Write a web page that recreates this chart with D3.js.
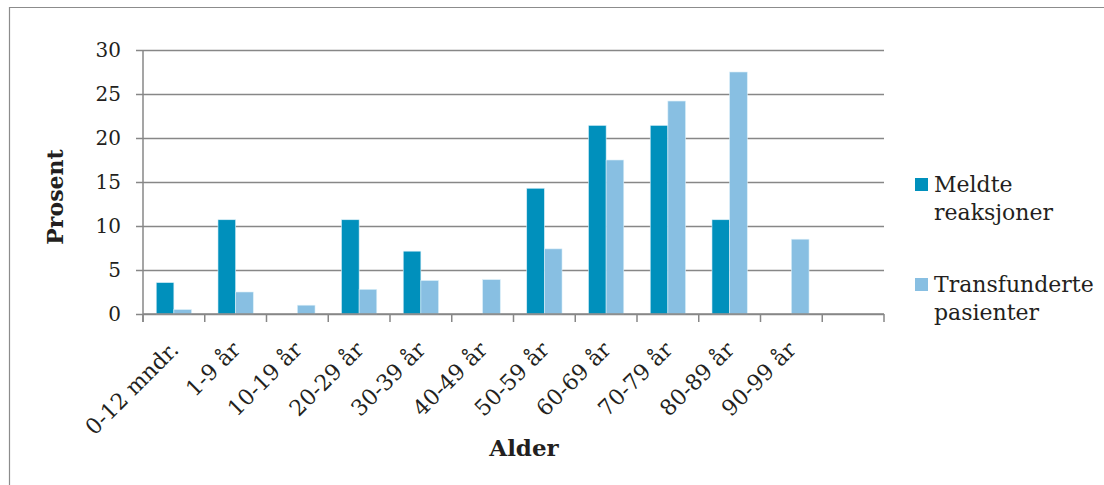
<!DOCTYPE html>
<html>
<head>
<meta charset="utf-8">
<script src="https://cdn.jsdelivr.net/npm/d3@7/dist/d3.min.js"></script>
<style>
  html, body { margin: 0; padding: 0; background: #fff; }
  svg { display: block; }
  text { font-family: "DejaVu Serif", Georgia, serif; fill: #231f20; }
</style>
</head>
<body>
<svg id="chart" width="1104" height="485"></svg>
<script>
// Age groups (last slot is an empty band with no label)
const categories = ["0-12 mndr.", "1-9 år", "10-19 år", "20-29 år", "30-39 år", "40-49 år",
                    "50-59 år", "60-69 år", "70-79 år", "80-89 år", "90-99 år", ""];
const seriesNames = ["Meldte reaksjoner", "Transfunderte pasienter"];
const meldte =        [3.57, 10.71, 0, 10.71, 7.14, 0, 14.29, 21.43, 21.43, 10.71, 0, 0];
const transfunderte = [0.5, 2.5, 1.0, 2.8, 3.8, 3.9, 7.4, 17.5, 24.2, 27.5, 8.5, 0];
const yTicks = [0, 5, 10, 15, 20, 25, 30];

const colors = ["#0090bc", "#88bfe2"];
const gridColor = "#878787";

const svg = d3.select("#chart");

// outer frame
svg.append("path")
  .attr("d", "M9.5,490 L9.5,7.5 L1110,7.5")
  .attr("fill", "none").attr("stroke", "#8c8c8c").attr("stroke-width", 1.2);

const plot = { left: 143, right: 884, top: 50, bottom: 314 };

const x = d3.scaleBand().domain(d3.range(categories.length))
  .range([plot.left, plot.right]).paddingInner(0).paddingOuter(0);
const inner = d3.scaleBand().domain([0, 1])
  .range([0, x.bandwidth()]).paddingInner(0).paddingOuter(0.75);
const y = d3.scaleLinear().domain([0, 30]).range([plot.bottom, plot.top]);

// horizontal gridlines with left tick marks
const yAxis = d3.axisLeft(y).tickValues(yTicks).tickSize(-(plot.right - plot.left)).tickFormat("");
const gy = svg.append("g").attr("transform", `translate(${plot.left},0)`).call(yAxis);
gy.select(".domain").remove();
gy.selectAll(".tick line").attr("stroke", gridColor).attr("stroke-width", 1.5)
  .attr("x1", -7);

// y tick labels
svg.append("g").selectAll("text").data(yTicks).join("text")
  .attr("x", 121).attr("y", d => y(d)).attr("dy", "0.36em")
  .attr("text-anchor", "end").attr("font-size", 20)
  .text(d => d);

// bars
const series = [meldte, transfunderte];
series.forEach((vals, s) => {
  svg.append("g").selectAll("rect").data(vals).join("rect")
    .attr("x", (d, i) => x(i) + inner(s))
    .attr("y", d => y(d))
    .attr("width", inner.bandwidth())
    .attr("height", d => y(0) - y(d))
    .attr("fill", colors[s])
    .attr("stroke", d => d > 0 ? "#d9eef8" : "none")
    .attr("stroke-width", 0.6);
});

// x axis line with tick marks at band edges
const edges = d3.range(categories.length + 1).map(i => plot.left + i * x.step());
svg.append("line")
  .attr("x1", plot.left).attr("x2", plot.right)
  .attr("y1", y(0)).attr("y2", y(0))
  .attr("stroke", gridColor).attr("stroke-width", 1.5);
svg.append("line")
  .attr("x1", plot.left).attr("x2", plot.left)
  .attr("y1", plot.top).attr("y2", y(0) + 8)
  .attr("stroke", gridColor).attr("stroke-width", 1.5);
svg.append("g").selectAll("line").data(edges).join("line")
  .attr("x1", d => d).attr("x2", d => d)
  .attr("y1", y(0)).attr("y2", y(0) + 8)
  .attr("stroke", gridColor).attr("stroke-width", 1.5);

// rotated category labels
svg.append("g").selectAll("text").data(categories).join("text")
  .attr("transform", (d, i) => `translate(${x(i) + x.bandwidth() / 2 + 6},${y(0) + 37}) rotate(-45)`)
  .attr("text-anchor", "end").attr("font-size", 22)
  .text(d => d);

// axis titles
svg.append("text")
  .attr("transform", `translate(63,197) rotate(-90)`)
  .attr("text-anchor", "middle").attr("font-size", 22).attr("font-weight", "bold")
  .text("Prosent");
svg.append("text")
  .attr("x", 524).attr("y", 456)
  .attr("text-anchor", "middle").attr("font-size", 23).attr("font-weight", "bold")
  .text("Alder");

// legend
const legendY = [178, 278];
const legendLines = [["Meldte", "reaksjoner"], ["Transfunderte", "pasienter"]];
const lg = svg.append("g");
seriesNames.forEach((name, s) => {
  lg.append("rect").attr("x", 915).attr("y", legendY[s])
    .attr("width", 13).attr("height", 13).attr("fill", colors[s]);
  const t = lg.append("text").attr("x", 934).attr("y", legendY[s] + 14).attr("font-size", 22);
  legendLines[s].forEach((ln, k) => {
    t.append("tspan").attr("x", 934).attr("dy", k === 0 ? 0 : 28).text(ln);
  });
});
</script>
</body>
</html>
